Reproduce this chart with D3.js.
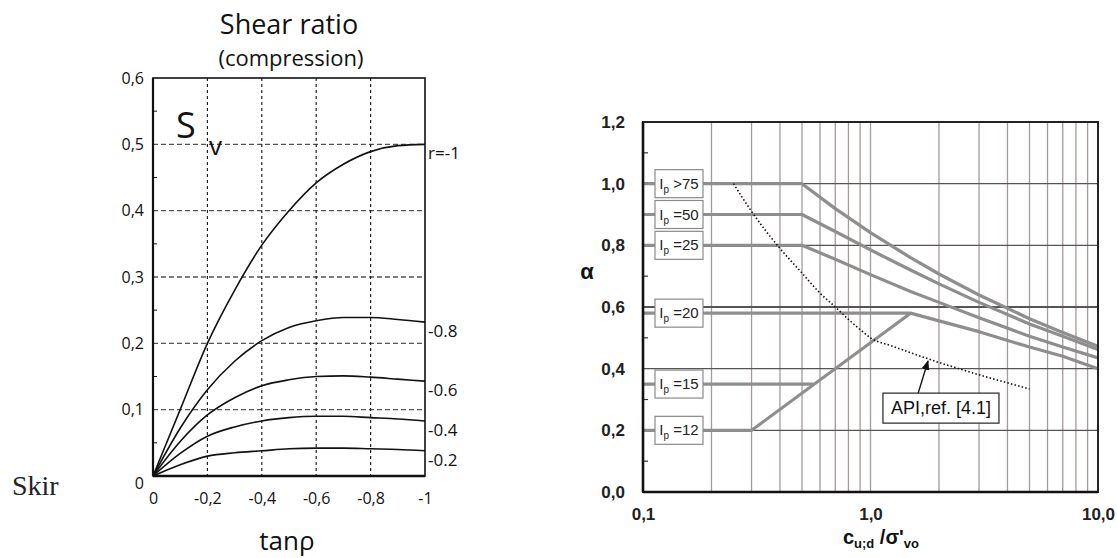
<!DOCTYPE html>
<html>
<head>
<meta charset="utf-8">
<script src="https://cdn.jsdelivr.net/npm/d3@7"></script>
<style>
body{margin:0;background:#fff;}
svg{display:block;}
</style>
</head>
<body>
<svg id="chart" width="1117" height="558"></svg>
<script>
// ---- left chart data: shear ratio Sv vs tan rho ----
var tanRho=[0,-0.1,-0.2,-0.3,-0.4,-0.5,-0.6,-0.7,-0.8,-0.9,-1];
var svR10=[0,0.1,0.2,0.28,0.348,0.40,0.442,0.47,0.489,0.498,0.5];
var svR08=[0,0.072,0.13,0.173,0.204,0.224,0.234,0.239,0.239,0.236,0.232];
var svR06=[0,0.052,0.092,0.118,0.136,0.145,0.15,0.151,0.149,0.146,0.143];
var svR04=[0,0.034,0.06,0.074,0.083,0.088,0.09,0.09,0.088,0.086,0.083];
var svR02=[0,0.017,0.03,0.035,0.038,0.041,0.042,0.042,0.041,0.04,0.038];
var svSeries=[svR10,svR08,svR06,svR04,svR02];
var rLabels=["r=-1","-0.8","-0.6","-0.4","-0.2"];
var leftYTicks=[0,0.1,0.2,0.3,0.4,0.5,0.6];
var leftXTicks=[0,-0.2,-0.4,-0.6,-0.8,-1];

// ---- right chart data: alpha vs cu/sigma'vo ----
var ipNames=[">75","=50","=25","=20","=15","=12"];
var ipLevels=[1.0,0.9,0.8,0.58,0.35,0.2];
var ip75Psi=[0.1,0.5,0.7,1,1.5,2,3,5,7,10];
var ip75Alpha=[1,1,0.919,0.841,0.76,0.707,0.639,0.562,0.517,0.473];
var ip50Psi=[0.1,0.5,0.7,1,1.5,2,3,5,7,10];
var ip50Alpha=[0.9,0.9,0.845,0.785,0.72,0.675,0.615,0.545,0.505,0.462];
var ip25Psi=[0.1,0.5,0.7,1,1.5,2,3,5,7,10];
var ip25Alpha=[0.8,0.8,0.755,0.705,0.65,0.615,0.565,0.505,0.47,0.435];
var ip20Psi=[0.1,1.5,2,3,5,7,10];
var ip20Alpha=[0.58,0.58,0.555,0.52,0.47,0.44,0.40];
var ip15Psi=[0.1,0.56];
var ip15Alpha=[0.35,0.35];
var ip12Psi=[0.1,0.3,1.5];
var ip12Alpha=[0.2,0.2,0.58];
var apiPsi=[0.25,0.3,0.4,0.5,0.6,0.7,0.8,0.9,1,1.25,1.5,2,2.5,3,4,5];
var apiAlpha=[1,0.91,0.79,0.71,0.645,0.6,0.56,0.527,0.5,0.473,0.452,0.42,0.398,0.38,0.354,0.334];
var rightYTicks=[0,0.2,0.4,0.6,0.8,1.0,1.2];
var rightXLabels=[0.1,1,10];
var rightXText=["0,1","1,0","10,0"];

var svg=d3.select("#chart");
var comma=function(v){return String(v).replace(".",",");};

// ================= LEFT CHART =================
var mL={left:153,right:425,top:78,bottom:476};
var xL=d3.scaleLinear().domain([0,-1]).range([mL.left,mL.right]);
var yL=d3.scaleLinear().domain([0,0.6]).range([mL.bottom,mL.top]);
var gL=svg.append("g").style("font-family","'Open Sans',sans-serif");

gL.append("text").attr("x",289).attr("y",34).attr("text-anchor","middle")
  .style("font-size","27px").attr("fill","#111").text("Shear ratio");
gL.append("text").attr("x",291).attr("y",66).attr("text-anchor","middle")
  .style("font-size","22px").attr("fill","#111").text("(compression)");

// grid
gL.selectAll(".hgrid").data([0.1,0.2,0.3,0.4,0.5]).enter().append("line")
  .attr("x1",mL.left).attr("x2",mL.right)
  .attr("y1",function(d){return yL(d);}).attr("y2",function(d){return yL(d);})
  .attr("stroke","#555").attr("stroke-width",1.3).attr("stroke-dasharray","5,3");
gL.selectAll(".vgrid").data([-0.2,-0.4,-0.6,-0.8]).enter().append("line")
  .attr("y1",mL.top).attr("y2",mL.bottom)
  .attr("x1",function(d){return xL(d);}).attr("x2",function(d){return xL(d);})
  .attr("stroke","#222").attr("stroke-width",1.2).attr("stroke-dasharray","3,3");

// minor inward ticks
gL.selectAll(".mtick").data([0.05,0.15,0.25,0.35,0.45,0.55]).enter().append("line")
  .attr("x1",mL.left).attr("x2",mL.left+4)
  .attr("y1",function(d){return yL(d);}).attr("y2",function(d){return yL(d);})
  .attr("stroke","#111").attr("stroke-width",1);

// frame
gL.append("rect").attr("x",mL.left).attr("y",mL.top)
  .attr("width",mL.right-mL.left).attr("height",mL.bottom-mL.top)
  .attr("fill","none").attr("stroke","#111").attr("stroke-width",1.6);
gL.append("line").attr("x1",mL.left).attr("x2",mL.left).attr("y1",mL.top).attr("y2",mL.bottom)
  .attr("stroke","#111").attr("stroke-width",2.2);
gL.append("line").attr("x1",mL.left).attr("x2",mL.right).attr("y1",mL.bottom).attr("y2",mL.bottom)
  .attr("stroke","#111").attr("stroke-width",2.6);

// axes labels
var axLY=gL.append("g").attr("transform","translate("+(mL.left-6)+",0)")
  .call(d3.axisLeft(yL).tickValues(leftYTicks).tickSize(0).tickFormat(comma));
axLY.select(".domain").remove();
axLY.selectAll("text").style("font-family","'Open Sans',sans-serif").style("font-size","16px")
  .attr("fill","#111").attr("dy",function(d){return d===0?"0.75em":"0.32em";});
var axLX=gL.append("g").attr("transform","translate(0,"+(mL.bottom+14)+")")
  .call(d3.axisBottom(xL).tickValues(leftXTicks).tickSize(0).tickFormat(comma));
axLX.select(".domain").remove();
axLX.selectAll("text").style("font-family","'Open Sans',sans-serif").style("font-size","16px").attr("fill","#111");

gL.append("text").attr("x",287).attr("y",550).attr("text-anchor","middle")
  .style("font-size","26px").attr("fill","#111").text("tanρ");
gL.append("text").attr("x",176).attr("y",138).style("font-size","36px").attr("fill","#111").text("S");
gL.append("text").attr("x",209).attr("y",155).style("font-size","26px").attr("fill","#111").text("v");

// curves
var lineL=d3.line().x(function(d){return xL(d[0]);}).y(function(d){return yL(d[1]);}).curve(d3.curveMonotoneX);
svSeries.forEach(function(s,i){
  var pts=tanRho.map(function(t,j){return [t,s[j]];});
  gL.append("path").datum(pts).attr("d",lineL).attr("fill","none")
    .attr("stroke","#111").attr("stroke-width",1.6);
  gL.append("text").attr("x",xL(-1)+3).attr("y",yL(s[s.length-1])+9)
    .attr("dy","0.35em").style("font-size","17px").attr("fill","#111").text(rLabels[i]);
});

// Skin text (cut off)
svg.append("text").attr("x",12).attr("y",495).style("font-family","'Liberation Serif',serif")
  .style("font-size","28px").attr("fill","#222").text("Skir");

// ================= RIGHT CHART =================
var mR={left:643,right:1098,top:122,bottom:492};
var xR=d3.scaleLog().domain([0.1,10]).range([mR.left,mR.right]);
var yR=d3.scaleLinear().domain([0,1.2]).range([mR.bottom,mR.top]);
var gR=svg.append("g").style("font-family","'Liberation Sans',Arial,sans-serif");

// vertical log grid
gR.selectAll(".vg").data(xR.ticks()).enter().append("line")
  .attr("x1",function(d){return xR(d);}).attr("x2",function(d){return xR(d);})
  .attr("y1",mR.top).attr("y2",mR.bottom)
  .attr("stroke","#a49a98").attr("stroke-width",1.3);
// horizontal grid
gR.selectAll(".hg").data([0.2,0.4,0.6,0.8,1.0]).enter().append("line")
  .attr("x1",mR.left).attr("x2",mR.right)
  .attr("y1",function(d){return yR(d);}).attr("y2",function(d){return yR(d);})
  .attr("stroke","#555").attr("stroke-width",function(d){return d===0.6?1.8:1.3;});
// minor ticks
gR.selectAll(".mt").data([0.1,0.3,0.5,0.7,0.9,1.1]).enter().append("line")
  .attr("x1",mR.left).attr("x2",mR.left+5)
  .attr("y1",function(d){return yR(d);}).attr("y2",function(d){return yR(d);})
  .attr("stroke","#333").attr("stroke-width",1.2);

// Ip lines
var lineR=d3.line().x(function(d){return xR(d[0]);}).y(function(d){return yR(d[1]);});
var ipSets=[[ip75Psi,ip75Alpha],[ip50Psi,ip50Alpha],[ip25Psi,ip25Alpha],[ip20Psi,ip20Alpha],[ip15Psi,ip15Alpha],[ip12Psi,ip12Alpha]];
ipSets.forEach(function(s){
  var pts=s[0].map(function(p,j){return [p,s[1][j]];});
  gR.append("path").datum(pts).attr("d",lineR).attr("fill","none")
    .attr("stroke","#8e8e8e").attr("stroke-width",3.2).attr("stroke-linejoin","round");
});

// API dotted
var apiPts=apiPsi.map(function(p,j){return [p,apiAlpha[j]];});
gR.append("path").datum(apiPts).attr("d",lineR.curve(d3.curveMonotoneX)).attr("fill","none")
  .attr("stroke","#111").attr("stroke-width",1.6).attr("stroke-dasharray","1.5,2.2");

// frame
gR.append("rect").attr("x",mR.left).attr("y",mR.top)
  .attr("width",mR.right-mR.left).attr("height",mR.bottom-mR.top)
  .attr("fill","none").attr("stroke","#222").attr("stroke-width",2);
gR.append("line").attr("x1",mR.left).attr("x2",mR.left).attr("y1",mR.top).attr("y2",mR.bottom)
  .attr("stroke","#111").attr("stroke-width",2.6);
gR.append("line").attr("x1",mR.left).attr("x2",mR.right).attr("y1",mR.bottom).attr("y2",mR.bottom)
  .attr("stroke","#111").attr("stroke-width",2.6);

// Ip label boxes
ipNames.forEach(function(n,i){
  var cy=yR(ipLevels[i]);
  var bx=mR.left+12;
  gR.append("rect").attr("x",bx).attr("y",cy-14).attr("width",48).attr("height",28)
    .attr("fill","#fff").attr("stroke","#8a8a8a").attr("stroke-width",1.2);
  var t=gR.append("text").attr("x",bx+24).attr("y",cy+5).attr("text-anchor","middle")
    .style("font-size","15px").attr("fill","#222");
  t.append("tspan").text("I");
  t.append("tspan").attr("dy",4).style("font-size","10px").text("p");
  t.append("tspan").attr("dy",-4).text(" "+n);
});

// API annotation
var apiBox={psi:2.04,alpha:0.272,tipPsi:1.79,tipAlpha:0.425,basePsi:1.62};
var bcx=xR(apiBox.psi), bcy=yR(apiBox.alpha);
svg.append("defs").append("marker").attr("id","arr").attr("viewBox","0 0 10 10")
  .attr("refX",9).attr("refY",5).attr("markerWidth",7).attr("markerHeight",7).attr("orient","auto")
  .append("path").attr("d","M0,1 L10,5 L0,9 Z").attr("fill","#111");
gR.append("line").attr("x1",xR(apiBox.basePsi)).attr("y1",bcy-15)
  .attr("x2",xR(apiBox.tipPsi)).attr("y2",yR(apiBox.tipAlpha))
  .attr("stroke","#111").attr("stroke-width",1.4).attr("marker-end","url(#arr)");
gR.append("rect").attr("x",bcx-58).attr("y",bcy-15).attr("width",116).attr("height",30)
  .attr("fill","#fff").attr("stroke","#333").attr("stroke-width",1.3);
gR.append("text").attr("x",bcx).attr("y",bcy+6).attr("text-anchor","middle")
  .style("font-size","18px").attr("fill","#111").text("API,ref. [4.1]");

// axis labels
var axRY=gR.append("g").attr("transform","translate("+(mR.left-15)+",0)")
  .call(d3.axisLeft(yR).tickValues(rightYTicks).tickSize(0).tickFormat(d3.format(".1f")));
axRY.select(".domain").remove();
axRY.selectAll("text").text(function(d){return comma(d3.format(".1f")(d));})
  .style("font-family","'Liberation Sans',Arial,sans-serif").style("font-size","17px")
  .style("font-weight","bold").attr("fill","#222");
var axRX=gR.append("g").attr("transform","translate(0,"+(mR.bottom+13)+")")
  .call(d3.axisBottom(xR).tickValues(rightXLabels).tickSize(0).tickFormat(function(d,i){return rightXText[i];}));
axRX.select(".domain").remove();
axRX.selectAll("text").style("font-family","'Liberation Sans',Arial,sans-serif").style("font-size","17px")
  .style("font-weight","bold").attr("fill","#222");

gR.append("text").attr("x",587).attr("y",279).attr("text-anchor","middle")
  .style("font-size","22px").style("font-weight","bold").attr("fill","#111").text("α");
var xl=gR.append("text").attr("x",881).attr("y",544).attr("text-anchor","middle")
  .style("font-size","20px").style("font-weight","bold").attr("fill","#111");
xl.append("tspan").text("c");
xl.append("tspan").attr("dy",4).style("font-size","13px").text("u;d");
xl.append("tspan").attr("dy",-4).text(" /σ'");
xl.append("tspan").attr("dy",4).style("font-size","13px").text("vo");
</script>
</body>
</html>
